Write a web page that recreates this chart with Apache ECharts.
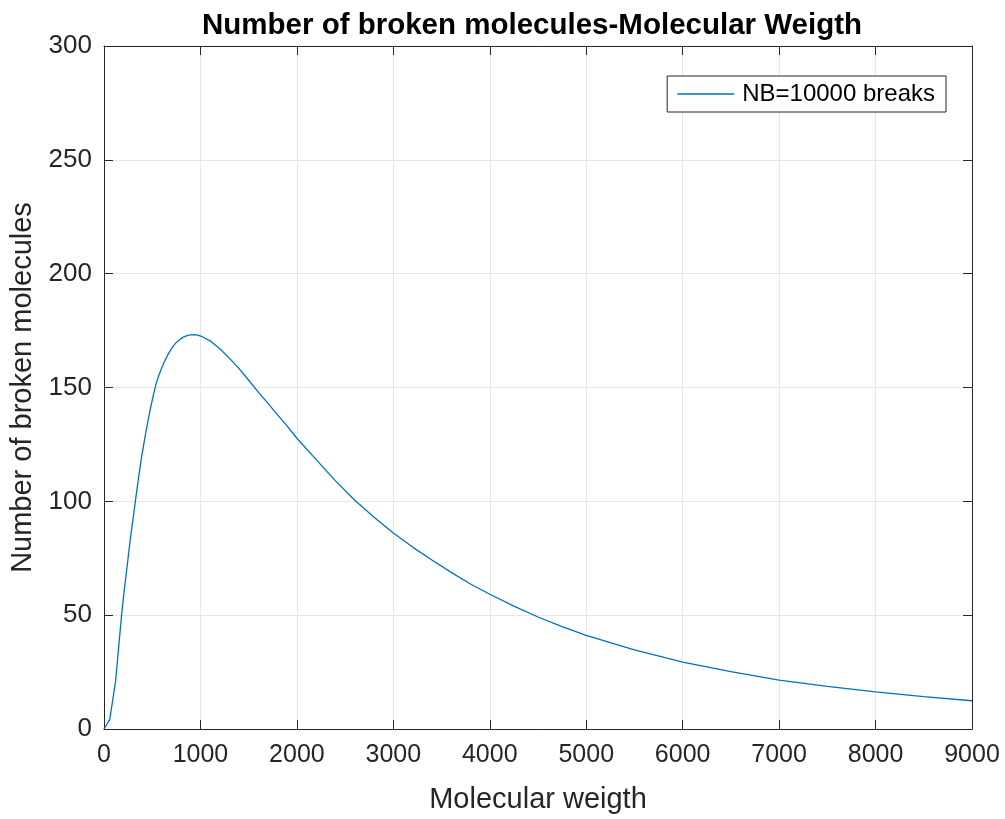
<!DOCTYPE html>
<html>
<head>
<meta charset="utf-8">
<script src="https://cdn.jsdelivr.net/npm/echarts@6/dist/echarts.min.js"></script>
<style>
  html, body { margin: 0; padding: 0; background: #ffffff; }
  #chart { width: 1005px; height: 819px; }
</style>
</head>
<body>
<div id="chart"></div>
<script>
// Molecular weight samples and the number of broken molecules at each
const molecularWeight = [
  0, 60, 120, 150, 180, 210, 240, 270, 300, 330, 360, 390, 420, 450, 480, 510, 540, 570,
  600, 630, 660, 690, 720, 750, 780, 810, 840, 870, 900, 930, 960,
  1020, 1100, 1200, 1300, 1400, 1500, 1600, 1700, 1800, 1900, 2000,
  2200, 2400, 2600, 2800, 3000, 3200, 3400, 3600, 3800, 4000,
  4250, 4500, 4750, 5000, 5500, 6000, 6500, 7000, 7500, 8000, 8500, 9000
];
const brokenMolecules = [
  0, 4.2, 21, 35, 49, 61, 71.5, 82.5, 92, 101.5, 111, 119.5, 127, 134, 140.5, 146.3, 151.6, 155.5,
  158.8, 161.7, 164.2, 166.4, 168.3, 169.8, 170.9, 171.8, 172.5, 172.9, 173.1, 173.2, 173.1,
  172.3, 170.5, 167, 162.9, 158.3, 153.2, 148, 143, 138, 133, 127.7,
  118.3, 109, 100.5, 93, 86.1, 79.9, 74.2, 68.8, 63.7, 59.2,
  54, 49.2, 45, 41.1, 34.8, 29.4, 25.2, 21.5, 18.7, 16.3, 14.2, 12.4
];
const seriesName = 'NB=10000 breaks';

const axisColor = '#262626';
const gridColor = '#e6e6e6';
const fontFamily = '"Liberation Sans", Arial, Helvetica, sans-serif';

const points = molecularWeight.map((x, i) => [x, brokenMolecules[i]]);

const chart = echarts.init(document.getElementById('chart'), null, { renderer: 'canvas' });

// Shared look for the four sides of the axes box
const boxAxis = (extra) => Object.assign({
  type: 'value',
  axisLine: { show: true, onZero: false, lineStyle: { color: axisColor, width: 1 } },
  axisTick: { show: true, inside: true, length: 9, lineStyle: { color: axisColor, width: 1 } },
  axisLabel: { show: false },
  splitLine: { show: false }
}, extra);

chart.setOption({
  animation: false,
  backgroundColor: '#ffffff',
  title: {
    text: 'Number of broken molecules-Molecular Weigth',
    left: 527,
    textAlign: 'center',
    top: 6,
    textStyle: { fontFamily, fontSize: 29.5, fontWeight: 'bold', color: '#000000' }
  },
  legend: {
    data: [{ name: seriesName, icon: 'rect' }],
    right: 59,
    top: 76,
    orient: 'vertical',
    itemWidth: 57,
    itemHeight: 1.3,
    itemGap: 8,
    padding: [6, 11, 6, 10],
    borderColor: axisColor,
    borderWidth: 1,
    backgroundColor: '#ffffff',
    textStyle: { fontFamily, fontSize: 24, color: '#000000', padding: [0, 0, 0, 3] }
  },
  grid: { left: 104, right: 33, top: 46, bottom: 87 },
  xAxis: [
    boxAxis({
      min: 0, max: 9000, interval: 1000,
      position: 'bottom',
      name: 'Molecular weigth',
      nameLocation: 'middle',
      nameGap: 56,
      nameTextStyle: { fontFamily, fontSize: 29, color: axisColor },
      axisLabel: { show: true, fontFamily, fontSize: 25, color: axisColor, margin: 14,
                   formatter: (v) => String(v) },
      splitLine: { show: true, lineStyle: { color: gridColor, width: 1 } }
    }),
    boxAxis({ min: 0, max: 9000, interval: 1000, position: 'top' })
  ],
  yAxis: [
    boxAxis({
      min: 0, max: 300, interval: 50,
      position: 'left',
      name: 'Number of broken molecules',
      nameLocation: 'middle',
      nameGap: 60,
      nameTextStyle: { fontFamily, fontSize: 29, color: axisColor },
      axisLabel: { show: true, fontFamily, fontSize: 26, color: axisColor, margin: 12,
                   formatter: (v) => String(v) },
      splitLine: { show: true, lineStyle: { color: gridColor, width: 1 } }
    }),
    boxAxis({ min: 0, max: 300, interval: 50, position: 'right' })
  ],
  series: [{
    name: seriesName,
    type: 'line',
    data: points,
    showSymbol: false,
    symbol: 'none',
    smooth: false,
    lineStyle: { color: '#0072BD', width: 1.3 },
    itemStyle: { color: '#0072BD' }
  }]
});
</script>
</body>
</html>
